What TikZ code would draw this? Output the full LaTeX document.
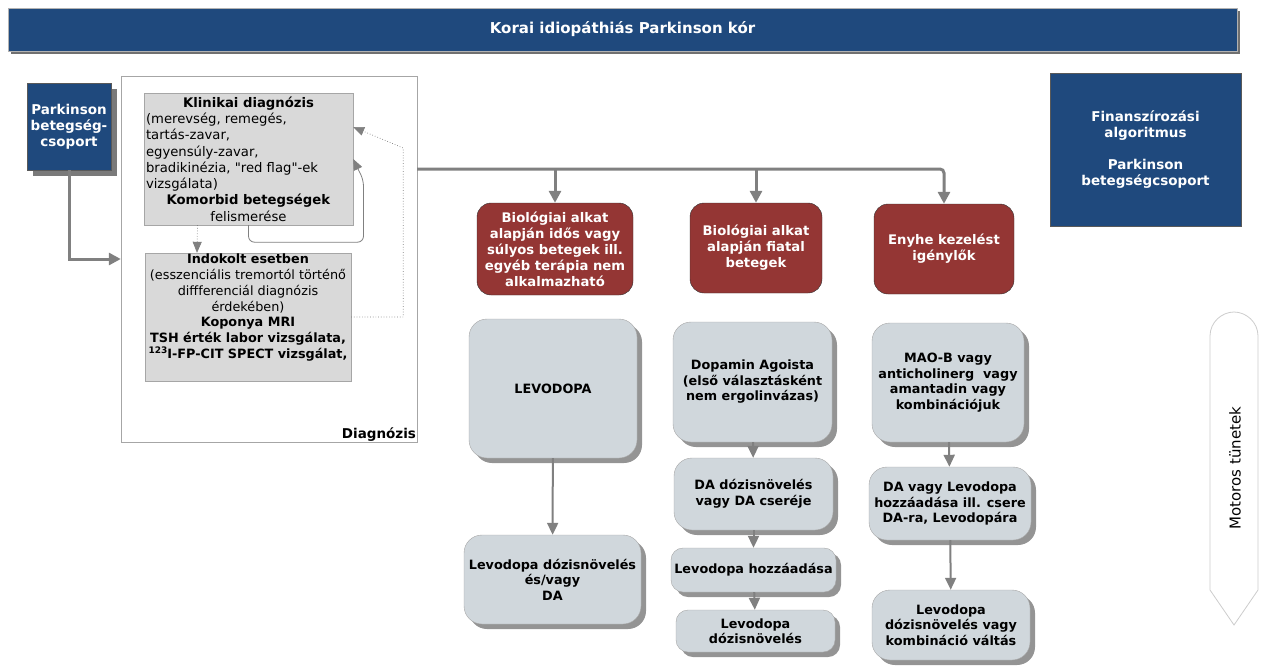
\documentclass[tikz,border=0pt]{standalone}
\usepackage{fontspec}
\setmainfont{DejaVu Sans}
\usetikzlibrary{arrows.meta,shadows,calc}
\definecolor{navy}{HTML}{1F497D}
\definecolor{brick}{HTML}{943634}
\definecolor{pale}{HTML}{D0D7DC}
\definecolor{linegray}{HTML}{808080}
\newcommand{\balra}[1]{\makebox[205pt][l]{#1}}

\begin{document}
\begin{tikzpicture}[x=1pt, y=-1pt,
        banner/.style={draw=gray!60, fill=navy, text=white, minimum width=1229pt, minimum height=43pt,
            font=\bfseries\fontsize{15}{18}\selectfont,
            drop shadow={shadow xshift=3pt, shadow yshift=-3pt, fill=black!70, opacity=0.8}},
        bluebox/.style={draw=gray!70!black, fill=navy, text=white, align=center,
            font=\bfseries\fontsize{13.5}{16}\selectfont},
        diagbox/.style={draw=gray!70, fill=gray!30, align=center, inner sep=1pt,
            font=\fontsize{13.2}{16.3}\selectfont},
        redbox/.style={draw=black!80, fill=brick, text=white, rounded corners=14pt, align=center,
            font=\bfseries\fontsize{13.2}{16}\selectfont},
        drugbox/.style={draw=gray!70, fill=pale, rounded corners=18pt, align=center,
            font=\bfseries\fontsize{12.8}{15.5}\selectfont,
            drop shadow={shadow xshift=5pt, shadow yshift=-5pt, fill=black!60, opacity=0.7}},
        rel/.style={draw=linegray, line width=3pt, -{Triangle[width=12pt,length=12pt,fill=linegray]}},
        steprel/.style={draw=linegray, line width=2pt, -{Triangle[width=11pt,length=12pt,fill=linegray]}},
        thinrel/.style={draw=linegray, line width=0.8pt, rounded corners=6pt, -{Triangle[width=9pt,length=11pt,fill=linegray]}},
        dotrel/.style={draw=gray, line width=0.7pt, dotted, -{Triangle[width=9pt,length=11pt,fill=linegray]}}
    ]
        \useasboundingbox (0,0) rectangle (1269,665);

        \node[banner] (title) at (622.5,29.5) {Korai idiopáthiás Parkinson kór};
        \node[bluebox, minimum width=84pt, minimum height=87pt,
            drop shadow={shadow xshift=6pt, shadow yshift=-6pt, fill=black!65, opacity=0.8}] (group) at (69,126.5) {Parkinson\\betegség-\\csoport};
        \node[bluebox, minimum width=191pt, minimum height=153pt] (fin) at (1145.5,149.5) {Finanszírozási\\algoritmus\\[16pt]Parkinson\\betegségcsoport};

        % diagnosztikai keret
        \node[draw=gray!70, fill=white, minimum width=296pt, minimum height=366pt] (diag) at (269,259) {};
        \node[anchor=south east, inner sep=1pt, font=\bfseries\fontsize{13.5}{16}\selectfont] (diagname) at (diag.south east) {Diagnózis};
        \node[diagbox, minimum width=209pt, minimum height=132pt] (clin) at (248.5,159) {%
            \textbf{Klinikai diagnózis}\\
            \balra{(merevség, remegés,}\\
            \balra{tartás-zavar,}\\
            \balra{egyensúly-zavar,}\\
            \balra{bradikinézia, \textquotedbl red flag\textquotedbl-ek}\\
            \balra{vizsgálata)}\\
            \textbf{Komorbid betegségek}\\
            felismerése};
        \node[diagbox, minimum width=206pt, minimum height=128pt, font=\fontsize{12.8}{15.7}\selectfont] (ind) at (248,317) {%
            \textbf{Indokolt esetben}\\
            (esszenciális tremortól történő\\
            diffferenciál diagnózis\\
            érdekében)\\
            \textbf{Koponya MRI}\\
            \textbf{TSH érték labor vizsgálata,}\\
            \textbf{{\fontsize{9}{9}\selectfont\raisebox{5pt}{123}}I-FP-CIT SPECT vizsgálat,}\\[6pt]};

        % betegcsoportok
        \node[redbox, minimum width=156pt, minimum height=92pt] (old) at (555,249) {Biológiai alkat\\alapján idős vagy\\súlyos betegek ill.\\egyéb terápia nem\\alkalmazható};
        \node[redbox, minimum width=132pt, minimum height=90pt] (young) at (756,248) {Biológiai alkat\\alapján fiatal\\betegek};
        \node[redbox, minimum width=140pt, minimum height=90pt] (mild) at (944,249) {Enyhe kezelést\\igénylők};

        % terápiás lépések
        \node[drugbox, minimum width=168pt, minimum height=139pt] (lev) at (553,388.5) {LEVODOPA};
        \node[drugbox, minimum width=177pt, minimum height=89pt] (levdose) at (552.5,579.5) {Levodopa dózisnövelés\\és/vagy\\DA};
        \node[drugbox, minimum width=159pt, minimum height=120pt] (dopa) at (752.5,382) {Dopamin Agoista\\(első választásként\\nem ergolinvázas)};
        \node[drugbox, minimum width=159pt, minimum height=72pt] (dadose) at (753.5,494) {DA dózisnövelés\\vagy DA cseréje};
        \node[drugbox, minimum width=161pt, minimum height=44pt, rounded corners=12pt] (addlev) at (753.5,570) {Levodopa hozzáadása};
        \node[drugbox, minimum width=159pt, minimum height=42pt, rounded corners=12pt] (levinc) at (755.5,631) {Levodopa\\dózisnövelés};
        \node[drugbox, minimum width=152pt, minimum height=119pt] (maob) at (948,382.5) {MAO-B vagy\\anticholinerg\ \ vagy\\amantadin vagy\\kombinációjuk};
        \node[drugbox, minimum width=162pt, minimum height=73pt] (dalev) at (950,503.5) {DA vagy Levodopa\\hozzáadása ill. csere\\DA-ra, Levodopára};
        \node[drugbox, minimum width=158pt, minimum height=70pt] (levcomb) at (951,625) {Levodopa\\dózisnövelés vagy\\kombináció váltás};

        % motoros tunetek nyil
        \draw[draw=gray!40, line width=0.8pt] (1234,625) -- (1210,590) -- (1210,336)
            .. controls (1210,322) and (1222,312) .. (1234,312)
            .. controls (1246,312) and (1258,322) .. (1258,336) -- (1258,590) -- cycle;
        \node[rotate=90, font=\fontsize{15}{18}\selectfont] (motor) at (1235,468) {Motoros tünetek};

        % kapcsolatok
        \coordinate (split) at (417,169);
        \draw[rel] (group.south) |- (diag.west);
        \draw[rel, rounded corners=4pt] (split) -| (mild.north);
        \draw[rel] (old.north |- split) -- (old.north);
        \draw[rel] (young.north |- split) -- (young.north);
        \draw[dotrel] ($(clin.south)+(-51,0)$) -- ($(ind.north)+(-51,0)$);
        \draw[thinrel] (clin.south) -- ++(0,17) -- ++(115,0) -- ++(0,-62) -- (clin.east);
        \draw[dotrel] (ind.east) -- ++(52,0) -- ++(0,-169) -- ($(clin.east)+(0,-32)$);

        \draw[steprel] (lev) -- (levdose);
        \draw[steprel] (dopa) -- (dadose);
        \draw[steprel] (dadose) -- (addlev);
        \draw[steprel] (addlev) -- (levinc);
        \draw[steprel] (maob) -- (dalev);
        \draw[steprel] (dalev) -- (levcomb);
    \end{tikzpicture}
\end{document}
